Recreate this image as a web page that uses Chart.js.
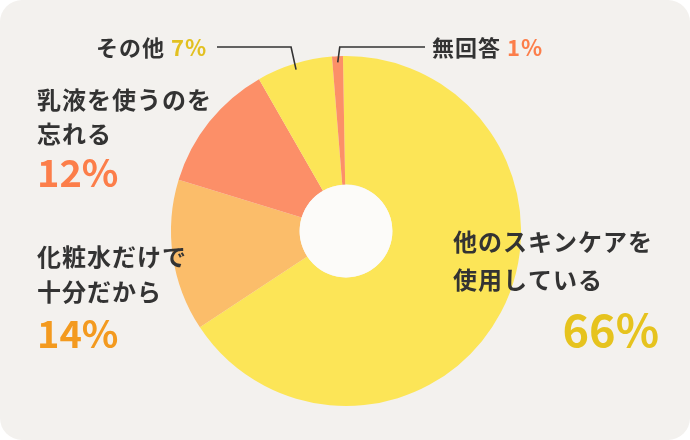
<!DOCTYPE html>
<html>
<head>
<meta charset="utf-8">
<script src="https://cdn.jsdelivr.net/npm/chart.js@4"></script>
<style>
  html, body { margin: 0; padding: 0; background: #fff; }
  #wrap { width: 690px; height: 440px; }
</style>
</head>
<body>
<div id="wrap"><canvas id="chart1" width="690" height="440"></canvas></div>
<script>
// data (clockwise from 12 o'clock)
const categories = ['他のスキンケアを使用している', '化粧水だけで十分だから', '乳液を使うのを忘れる', 'その他', '無回答'];
const values = [66, 14, 12, 7, 1];
const sliceColors = ['#FCE557', '#FBBD6A', '#FC8F68', '#FCE557', '#FC8F68'];
const pctColors = ['#E6C31E', '#F39A1F', '#FC7E4A', '#E2C020', '#FC7E4A'];

// label layout: lines of text, percent, where to put them
const labelLayout = [
  { lines: ['他のスキンケアを', '使用している'], x: 453, y: [242, 280], pctX: 659, pctY: 330, pctSize: 45, align: 'right' },
  { lines: ['化粧水だけで', '十分だから'], x: 37, y: [257, 292], pctX: 37, pctY: 334, pctSize: 38, align: 'left' },
  { lines: ['乳液を使うのを', '忘れる'], x: 37, y: [100, 134], pctX: 37, pctY: 173, pctSize: 38, align: 'left' },
  { callout: true, x: 96, y: 47, lineFrom: 217, elbow: -5, side: 'left' },
  { callout: true, x: 432, y: 47, lineFrom: 425, elbow: 2, side: 'right' }
];

const FONT = '"Noto Sans CJK JP", "Noto Sans", sans-serif';

const cardBg = {
  id: 'cardBg',
  beforeDraw(chart) {
    const c = chart.ctx;
    c.save();
    c.fillStyle = '#F3F1EE';
    c.beginPath();
    c.roundRect(0, 0, chart.width, chart.height, 22);
    c.fill();
    c.restore();
  }
};

const holeAndLabels = {
  id: 'holeAndLabels',
  afterDatasetsDraw(chart) {
    const c = chart.ctx;
    const arcs = chart.getDatasetMeta(0).data;
    const a0 = arcs[0];
    c.save();
    // center hole
    c.fillStyle = '#FCFBF9';
    c.beginPath();
    c.arc(a0.x, a0.y, a0.innerRadius, 0, Math.PI * 2);
    c.fill();

    c.textBaseline = 'middle';
    labelLayout.forEach((L, i) => {
      if (L.callout) {
        const arc = arcs[i];
        const mid = (arc.startAngle + arc.endAngle) / 2;
        const r = arc.outerRadius * 0.965;
        const ex = arc.x + Math.cos(mid) * r;
        const ey = arc.y + Math.sin(mid) * r;
        // leader line
        c.strokeStyle = '#333';
        c.lineWidth = 1.6;
        c.beginPath();
        c.moveTo(L.lineFrom, L.y);
        c.lineTo(ex + L.elbow, L.y);
        c.lineTo(ex, ey);
        c.stroke();
        // text
        c.font = 'bold 22px ' + FONT;
        c.letterSpacing = '1px';
        c.textAlign = 'left';
        c.fillStyle = '#333';
        const name = categories[i] + ' ';
        c.fillText(name, L.x, L.y + 1);
        const w = c.measureText(name).width;
        c.fillStyle = pctColors[i];
        c.fillText(values[i] + '%', L.x + w, L.y + 1);
      } else {
        c.font = 'bold 24px ' + FONT;
        c.letterSpacing = '1px';
        c.textAlign = 'left';
        c.fillStyle = '#333';
        L.lines.forEach((t, k) => c.fillText(t, L.x, L.y[k]));
        c.font = 'bold ' + L.pctSize + 'px ' + FONT;
        c.letterSpacing = '0px';
        c.textAlign = L.align;
        c.fillStyle = pctColors[i];
        c.fillText(values[i] + '%', L.pctX, L.pctY);
      }
    });
    c.restore();
  }
};

new Chart(document.getElementById('chart1').getContext('2d'), {
  type: 'doughnut',
  data: {
    labels: categories,
    datasets: [{
      data: values,
      backgroundColor: sliceColors,
      borderWidth: 0
    }]
  },
  options: {
    responsive: false,
    animation: false,
    cutout: '26.5%',
    rotation: -1,
    layout: { padding: { top: 56, bottom: 34, left: 171, right: 169 } },
    plugins: {
      legend: { display: false },
      tooltip: { enabled: false }
    }
  },
  plugins: [cardBg, holeAndLabels]
});
</script>
</body>
</html>
